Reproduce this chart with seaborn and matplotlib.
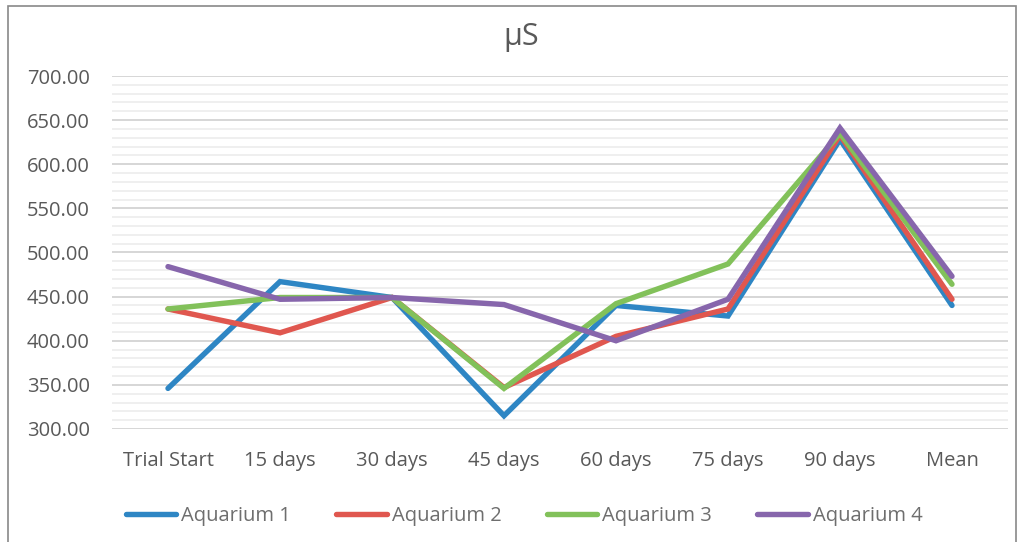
import pandas as pd
import numpy as np
import matplotlib
matplotlib.use("Agg")
import matplotlib.pyplot as plt
from matplotlib.ticker import MultipleLocator, FormatStrFormatter
from matplotlib.patches import Rectangle
import seaborn as sns

periods = ["Trial Start", "15 days", "30 days", "45 days", "60 days", "75 days", "90 days", "Mean"]
aquarium_1 = [346, 467, 449, 315, 440, 428, 628, 440]
aquarium_2 = [436, 409, 449, 347, 405, 436, 633, 447]
aquarium_3 = [436, 449, 449, 346, 442, 487, 635, 464]
aquarium_4 = [484, 447, 449, 441, 400, 447, 641, 473]
series_names = ["Aquarium 1", "Aquarium 2", "Aquarium 3", "Aquarium 4"]
colors = ["#2E86C4", "#E0574F", "#82C15A", "#8766AC"]


def build_frame():
    rows = []
    for name, vals in zip(series_names, [aquarium_1, aquarium_2, aquarium_3, aquarium_4]):
        for p, v in zip(periods, vals):
            rows.append({"period": p, "value": v, "series": name})
    df = pd.DataFrame(rows)
    df["pos"] = df["period"].map({p: i for i, p in enumerate(periods)})
    return df


def plot_chart(df):
    sns.set_style("white")
    plt.rcParams["font.family"] = ["Open Sans", "DejaVu Sans"]
    W, H = 1021, 542
    fig = plt.figure(figsize=(W / 100, H / 100), dpi=100)
    ax = fig.add_axes([112 / W, 1 - 429 / H, (1008 - 112) / W, (429 - 76) / H])

    sns.lineplot(data=df, x="pos", y="value", hue="series", palette=colors,
                 sort=False, linewidth=3.9, ax=ax, legend=False,
                 solid_capstyle="round", solid_joinstyle="miter", zorder=3)

    ax.set_xlim(-0.5, 7.5)
    ax.set_ylim(300, 700)
    ax.set_xticks(range(len(periods)))
    ax.set_xticklabels(periods)
    ax.yaxis.set_major_locator(MultipleLocator(50))
    ax.yaxis.set_minor_locator(MultipleLocator(10))
    ax.yaxis.set_major_formatter(FormatStrFormatter("%.2f"))
    ax.grid(which="major", axis="y", color="#D0D0D0", linewidth=1.2, zorder=0)
    ax.grid(which="minor", axis="y", color="#ECECEC", linewidth=1.2, zorder=0)
    ax.set_axisbelow(True)
    for s in ax.spines.values():
        s.set_visible(False)
    ax.tick_params(axis="both", which="both", length=0, labelsize=14.5, colors="#595959")
    ax.tick_params(axis="y", pad=16)
    ax.tick_params(axis="x", pad=16)
    ax.set_xlabel("")
    ax.set_ylabel("")

    fig.text(521 / W, 1 - 37 / H, "µS", ha="center", va="center", fontsize=22, color="#595959")

    handles = [plt.Line2D([0], [0], color=c, linewidth=3.9, solid_capstyle="round") for c in colors]
    fig.legend(handles, series_names, loc="center", bbox_to_anchor=(524 / W, 1 - 516 / H),
               ncol=4, frameon=False, fontsize=14.5, handlelength=2.5, handletextpad=0.25,
               columnspacing=2.25, labelcolor="#6E6E6E")

    fig.patches.append(Rectangle((8 / W, -0.02), (1016 - 8) / W, 1 - 6 / H + 0.02,
                                 transform=fig.transFigure, fill=False,
                                 edgecolor="#898989", linewidth=1.2))
    fig.savefig("out.png", dpi=100)


if __name__ == "__main__":
    df = build_frame()
    plot_chart(df)
